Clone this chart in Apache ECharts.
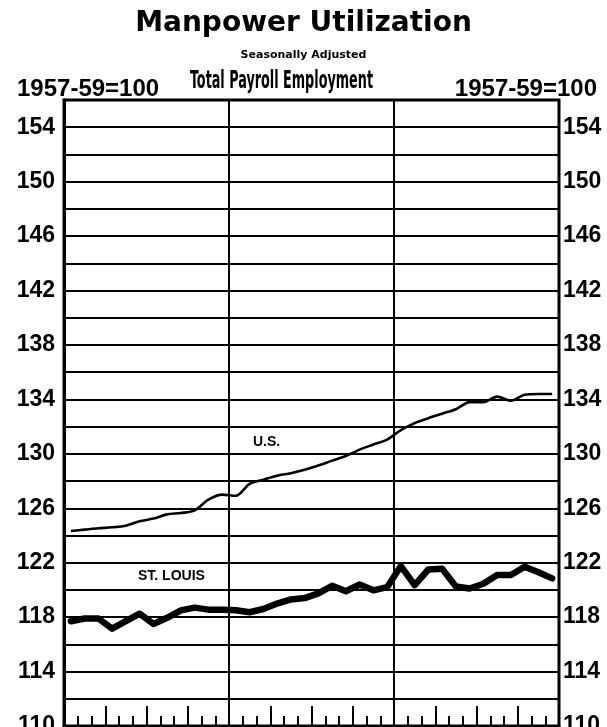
<!DOCTYPE html>
<html>
<head>
<meta charset="utf-8">
<script src="https://cdn.jsdelivr.net/npm/echarts@6/dist/echarts.min.js"></script>
<style>
html, body { margin: 0; padding: 0; background: #fff; }
#main { width: 607px; height: 727px; }
</style>
</head>
<body>
<div id="main"></div>
<script>
// monthly index, 1957-59=100, three years (36 months)
var usIndex = [
    124.33, 124.43, 124.53, 124.6, 124.72, 125.04, 125.24, 125.55, 125.65, 125.85, 126.63, 127.0,
    126.92, 127.8, 128.1, 128.39, 128.58, 128.83, 129.14, 129.5, 129.84, 130.31, 130.68, 131.05,
    131.74, 132.26, 132.62, 132.95, 133.28, 133.8, 133.8, 134.2, 133.9, 134.34, 134.4, 134.4
];
var stLouisIndex = [
    117.7, 117.9, 117.9, 117.15, 117.7, 118.25, 117.5, 117.95, 118.5, 118.7, 118.55, 118.55,
    118.5, 118.36, 118.6, 119.0, 119.3, 119.4, 119.75, 120.3, 119.9, 120.4, 119.97, 120.2,
    121.75, 120.35, 121.5, 121.55, 120.25, 120.1, 120.45, 121.1, 121.1, 121.7, 121.3, 120.85
];
var tickLabels = [110, 114, 118, 122, 126, 130, 134, 138, 142, 146, 150, 154];

var baseText = '1957-59=100';
var labelFont = 'Liberation Sans';

// points sit in the middle of each month
function toPoints(arr) {
    return arr.map(function (v, i) { return [i + 0.5, v]; });
}

function fitScale(text, font, width) {
    var ctx = document.createElement('canvas').getContext('2d');
    ctx.font = font;
    return width / ctx.measureText(text).width;
}

var subFont = 'bold 25px "DejaVu Sans Condensed", "DejaVu Sans"';
var subScale = fitScale('Total Payroll Employment', subFont, 183);

var myChart = echarts.init(document.getElementById('main'));

var yLabel = {
    fontSize: 23,
    fontWeight: 'bold',
    fontFamily: labelFont,
    color: '#000',
    formatter: function (v) {
        return tickLabels.indexOf(v) >= 0 ? String(v) : '';
    }
};

myChart.setOption({
    animation: false,
    backgroundColor: '#fff',
    title: [{
        text: 'Manpower Utilization',
        left: 'center',
        top: 5,
        textStyle: { fontFamily: 'DejaVu Sans', fontWeight: 'bold', fontSize: 28, color: '#000' }
    }, {
        text: 'Seasonally Adjusted',
        left: 'center',
        top: 45,
        textStyle: { fontFamily: 'DejaVu Sans', fontWeight: 'bold', fontSize: 11, color: '#000' }
    }, {
        text: baseText,
        left: 12,
        top: 72,
        textStyle: { fontFamily: labelFont, fontWeight: 'bold', fontSize: 24, color: '#000' }
    }, {
        text: baseText,
        right: 5,
        top: 72,
        textStyle: { fontFamily: labelFont, fontWeight: 'bold', fontSize: 24, color: '#000' }
    }],
    graphic: [{
        type: 'text',
        x: 190,
        y: 69,
        scaleX: subScale,
        style: { text: 'Total Payroll Employment', font: subFont, fill: '#000' }
    }, {
        type: 'text',
        x: 253,
        y: 435,
        style: { text: 'U.S.', font: 'bold 14px "Liberation Sans"', fill: '#000' }
    }, {
        type: 'text',
        x: 138,
        y: 569,
        style: { text: 'ST. LOUIS', font: 'bold 14px "Liberation Sans"', fill: '#000' }
    }],
    grid: {
        left: 64,
        right: 48,
        top: 100,
        bottom: 1,
        outerBoundsMode: 'none',
        show: true,
        borderColor: '#000',
        borderWidth: 3
    },
    xAxis: [{
        type: 'value',
        min: 0,
        max: 36,
        interval: 3,
        axisLine: { show: true, lineStyle: { color: '#000', width: 3 } },
        axisTick: { show: true, inside: true, length: 20, lineStyle: { color: '#000', width: 2 } },
        minorTick: { show: true, splitNumber: 3, length: 10, lineStyle: { color: '#000', width: 2 } },
        axisLabel: { show: false },
        splitLine: { show: false }
    }, {
        type: 'value',
        min: 0,
        max: 36,
        interval: 12,
        position: 'bottom',
        axisLine: { show: false },
        axisTick: { show: false },
        axisLabel: { show: false },
        splitLine: { show: true, lineStyle: { color: '#000', width: 2 } }
    }],
    yAxis: [{
        type: 'value',
        min: 110,
        max: 156,
        interval: 2,
        position: 'left',
        axisLine: { show: true, lineStyle: { color: '#000', width: 3 } },
        axisTick: { show: false },
        axisLabel: Object.assign({ margin: 9 }, yLabel),
        splitLine: { show: true, lineStyle: { color: '#000', width: 2 } }
    }, {
        type: 'value',
        min: 110,
        max: 156,
        interval: 2,
        position: 'right',
        axisLine: { show: true, lineStyle: { color: '#000', width: 3 } },
        axisTick: { show: false },
        axisLabel: Object.assign({ margin: 4 }, yLabel),
        splitLine: { show: false }
    }],
    series: [{
        name: 'U.S.',
        type: 'line',
        xAxisIndex: 0,
        yAxisIndex: 0,
        data: toPoints(usIndex),
        showSymbol: false,
        smooth: 0.3,
        lineStyle: { color: '#000', width: 2.6 }
    }, {
        name: 'St. Louis',
        type: 'line',
        xAxisIndex: 0,
        yAxisIndex: 0,
        data: toPoints(stLouisIndex),
        showSymbol: false,
        lineStyle: { color: '#000', width: 6.5, join: 'round', cap: 'round' }
    }]
});
</script>
</body>
</html>
